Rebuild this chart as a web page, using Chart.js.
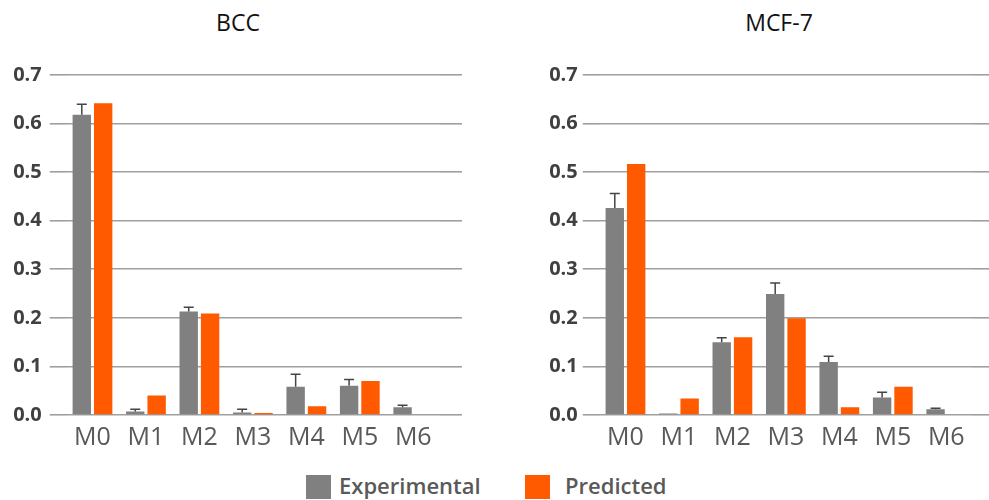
<!DOCTYPE html>
<html>
<head>
<meta charset="utf-8">
<script src="https://cdn.jsdelivr.net/npm/chart.js@4.4.1/dist/chart.umd.min.js"></script>
<style>
  html, body { margin: 0; padding: 0; background: #fff; }
  body { width: 989px; height: 500px; position: relative; overflow: hidden; font-family: 'Open Sans', sans-serif; }
  .box { position: absolute; top: 0; height: 460px; }
  #box1 { left: 0; width: 480px; }
  #box2 { left: 480px; width: 509px; }
  .title { position: absolute; top: 6px; font-size: 23px; color: #111; transform: translateX(-50%); white-space: nowrap; }
  .sw { position: absolute; top: 475px; width: 25px; height: 24px; }
  .lbl { position: absolute; top: 470px; font-size: 22px; font-weight: 600; color: #595959; white-space: nowrap; }
</style>
</head>
<body>
<div class="title" style="left:238px">BCC</div>
<div class="title" style="left:779px">MCF-7</div>
<div class="box" id="box1"><canvas id="c1"></canvas></div>
<div class="box" id="box2"><canvas id="c2"></canvas></div>
<div class="sw" style="left:306px;background:#808080"></div>
<div class="lbl" style="left:339px">Experimental</div>
<div class="sw" style="left:525px;background:#ff5a00"></div>
<div class="lbl" style="left:565px">Predicted</div>
<script>
// DATA
const categories = ['M0', 'M1', 'M2', 'M3', 'M4', 'M5', 'M6'];
const bccExperimental = [0.618, 0.007, 0.213, 0.005, 0.058, 0.060, 0.016];
const bccError        = [0.022, 0.005, 0.009, 0.007, 0.026, 0.013, 0.004];
const bccPredicted    = [0.642, 0.040, 0.209, 0.004, 0.018, 0.070, 0];
const mcfExperimental = [0.426, 0.003, 0.150, 0.249, 0.109, 0.036, 0.012];
const mcfError        = [0.030, 0, 0.009, 0.023, 0.012, 0.011, 0.002];
const mcfPredicted    = [0.517, 0.034, 0.160, 0.199, 0.016, 0.058, 0];
const yTicks = [0, 0.1, 0.2, 0.3, 0.4, 0.5, 0.6, 0.7];

const gray = '#808080', orange = '#ff5a00', gridColor = '#9f9f9f';

// upper whisker only, on the experimental series
const errorBars = {
  id: 'errorBars',
  afterDatasetsDraw(chart) {
    const { ctx, scales: { y } } = chart;
    const ds = chart.data.datasets[0];
    const meta = chart.getDatasetMeta(0);
    ctx.save();
    ctx.strokeStyle = '#454545';
    ctx.lineWidth = 1.5;
    meta.data.forEach((bar, i) => {
      if (!ds.errors[i]) return;
      const top = y.getPixelForValue(ds.data[i] + ds.errors[i]);
      ctx.beginPath();
      ctx.moveTo(bar.x, bar.y);
      ctx.lineTo(bar.x, top);
      ctx.moveTo(bar.x - 5, top);
      ctx.lineTo(bar.x + 5, top);
      ctx.stroke();
    });
    ctx.restore();
  }
};

function makeChart(id, exp, err, pred, o) {
  return new Chart(document.getElementById(id), {
    type: 'bar',
    data: {
      labels: categories,
      datasets: [
        { label: 'Experimental', data: exp, errors: err, backgroundColor: gray },
        { label: 'Predicted', data: pred, backgroundColor: orange }
      ]
    },
    options: {
      responsive: true, maintainAspectRatio: false, animation: false,
      layout: { padding: { top: 75, right: o.padRight, left: 0, bottom: 0 } },
      categoryPercentage: 0.8, barPercentage: 0.86,
      plugins: { legend: { display: false }, tooltip: { enabled: false } },
      scales: {
        x: {
          grid: { display: false }, border: { display: false },
          ticks: { color: '#595959', padding: 0, font: { family: 'Open Sans', size: 25 } },
          afterFit: s => { s.height = 45; }
        },
        y: {
          min: 0, max: 0.7,
          afterBuildTicks: s => { s.ticks = yTicks.map(v => ({ value: v })); },
          grid: { color: gridColor, lineWidth: 1.6, tickLength: 16 },
          border: { display: false },
          ticks: { color: '#404040', padding: o.tickPad, callback: v => v.toFixed(1),
                   font: { family: 'Open Sans', size: 20, weight: 'bold' } },
          afterFit: s => { s.width = o.yWidth; }
        },
        y2: {
          position: 'right', min: 0, max: 0.7,
          afterBuildTicks: s => { s.ticks = yTicks.map(v => ({ value: v })); },
          grid: { color: gridColor, lineWidth: 1.6, tickLength: o.extRight, drawOnChartArea: false },
          border: { display: false },
          ticks: { display: false },
          afterFit: s => { s.width = o.extRight; }
        }
      }
    },
    plugins: [errorBars]
  });
}

makeChart('c1', bccExperimental, bccError, bccPredicted, { padRight: 18, yWidth: 65.75, extRight: 22, tickPad: 8 });
makeChart('c2', mcfExperimental, mcfError, mcfPredicted, { padRight: 0, yWidth: 118.75, extRight: 16, tickPad: 5 });
</script>
</body>
</html>
